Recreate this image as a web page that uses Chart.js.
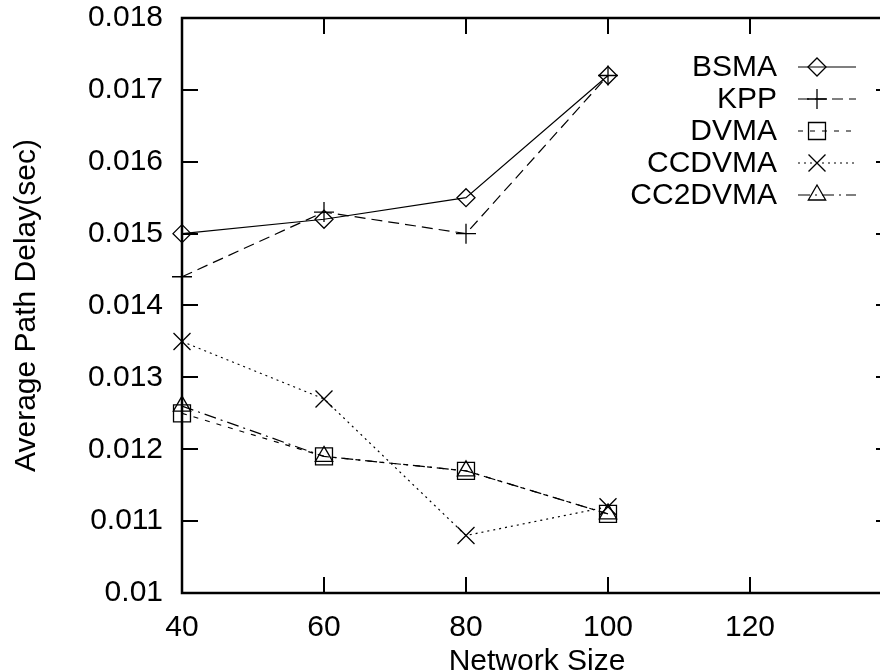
<!DOCTYPE html>
<html>
<head>
<meta charset="utf-8">
<script src="https://cdn.jsdelivr.net/npm/chart.js@4/dist/chart.umd.min.js"></script>
<style>
  html, body { margin: 0; padding: 0; background: #fff; overflow: hidden; }
  canvas { display: block; }
</style>
</head>
<body>
<canvas id="c" width="920" height="671"></canvas>
<script>
// ---- data ----
const networkSizes = [40, 60, 80, 100];
const bsma    = [0.0150, 0.0152, 0.0155, 0.0172];
const kpp     = [0.0144, 0.0153, 0.0150, 0.0172];
const dvma    = [0.0125, 0.0119, 0.0117, 0.0111];
const ccdvma  = [0.0135, 0.0127, 0.0108, 0.0112];
const cc2dvma = [0.0126, 0.0119, 0.0117, 0.0111];
const seriesNames = ['BSMA', 'KPP', 'DVMA', 'CCDVMA', 'CC2DVMA'];
const xTickValues = [40, 60, 80, 100, 120];
const yTickValues = [0.010, 0.011, 0.012, 0.013, 0.014, 0.015, 0.016, 0.017, 0.018];

const FONT = '"Liberation Sans", Arial, Helvetica, sans-serif';

const styles = [
  { pointStyle: 'rectRot',  pointRadius: 9,  borderDash: [] },
  { pointStyle: 'cross',    pointRadius: 10, borderDash: [11, 6] },
  { pointStyle: 'rect',     pointRadius: 12, borderDash: [5, 7] },
  { pointStyle: 'crossRot', pointRadius: 12, borderDash: [2, 4] },
  { pointStyle: 'triangle', pointRadius: 10, borderDash: [12, 5, 2, 5] }
];
const allSeries = [bsma, kpp, dvma, ccdvma, cc2dvma];

const datasets = allSeries.map((vals, i) => ({
  label: seriesNames[i],
  data: networkSizes.map((x, j) => ({ x: x, y: vals[j] })),
  borderColor: '#000',
  backgroundColor: 'rgba(0,0,0,0)',
  borderWidth: 1.2,
  borderDash: styles[i].borderDash,
  pointStyle: styles[i].pointStyle,
  pointRadius: styles[i].pointRadius,
  pointHoverRadius: styles[i].pointRadius,
  pointBorderWidth: 1.3,
  pointBorderColor: '#000',
  pointBackgroundColor: 'rgba(0,0,0,0)',
  tension: 0,
  fill: false,
  clip: false
}));

// frame with inward ticks on all four sides (gnuplot style)
const framePlugin = {
  id: 'frame',
  afterDatasetsDraw(chart) {
    const { ctx, chartArea: a, scales } = chart;
    ctx.save();
    ctx.strokeStyle = '#000';
    ctx.lineWidth = 2;
    ctx.setLineDash([]);
    const T = 16;
    ctx.beginPath();
    yTickValues.forEach(v => {
      const y = Math.round(scales.y.getPixelForValue(v));
      ctx.moveTo(a.left, y); ctx.lineTo(a.left + T, y);
      ctx.moveTo(a.right, y); ctx.lineTo(a.right - T, y);
    });
    xTickValues.forEach(v => {
      const x = Math.round(scales.x.getPixelForValue(v));
      ctx.moveTo(x, a.bottom); ctx.lineTo(x, a.bottom - T);
      ctx.moveTo(x, a.top); ctx.lineTo(x, a.top + T);
    });
    ctx.stroke();
    ctx.lineWidth = 2.5;
    ctx.strokeRect(a.left, a.top, a.right - a.left, a.bottom - a.top);
    ctx.restore();
  }
};

// gnuplot-style key: text on the left, line sample with marker on the right
const keyPlugin = {
  id: 'gnukey',
  afterDraw(chart) {
    const { ctx } = chart;
    ctx.save();
    ctx.font = '30px ' + FONT;
    ctx.textAlign = 'right';
    ctx.textBaseline = 'middle';
    chart.data.datasets.forEach((ds, i) => {
      const y = 67 + i * 32;
      ctx.fillStyle = '#000';
      ctx.fillText(ds.label, 777, y + 1);
      ctx.strokeStyle = '#000';
      ctx.lineWidth = ds.borderWidth;
      ctx.setLineDash(ds.borderDash || []);
      ctx.beginPath();
      ctx.moveTo(798, y); ctx.lineTo(856, y);
      ctx.stroke();
      ctx.setLineDash([]);
      ctx.lineWidth = ds.pointBorderWidth;
      ctx.fillStyle = 'rgba(0,0,0,0)';
      Chart.helpers.drawPoint(ctx, {
        pointStyle: ds.pointStyle,
        radius: ds.pointRadius,
        rotation: 0,
        borderWidth: ds.pointBorderWidth
      }, 817, y);
    });
    ctx.restore();
  }
};

new Chart(document.getElementById('c'), {
  type: 'line',
  data: { datasets: datasets },
  options: {
    responsive: false,
    animation: false,
    events: [],
    layout: { padding: { top: 18, right: 28, left: 0, bottom: 0 } },
    plugins: { legend: { display: false }, tooltip: { enabled: false } },
    scales: {
      x: {
        type: 'linear',
        min: 40, max: 140,
        afterFit: s => { s.height = 78; s.paddingLeft = 0; s.paddingRight = 0; },
        afterBuildTicks: s => { s.ticks = [40, 60, 80, 100, 120, 140].map(v => ({ value: v })); },
        grid: { display: false, drawTicks: false },
        border: { display: false },
        ticks: {
          padding: 17,
          color: '#000',
          font: { family: FONT, size: 30 },
          maxRotation: 0,
          callback: v => (xTickValues.includes(v) ? String(v) : '')
        },
        title: {
          display: true,
          text: 'Network Size',
          color: '#000',
          font: { family: FONT, size: 30, lineHeight: '18px' },
          padding: { top: 0, bottom: 0 }
        }
      },
      y: {
        type: 'linear',
        min: 0.010, max: 0.018,
        afterFit: s => { s.width = 182; s.paddingTop = 0; s.paddingBottom = 0; },
        afterBuildTicks: s => { s.ticks = yTickValues.map(v => ({ value: v })); },
        grid: { display: false, drawTicks: false },
        border: { display: false },
        ticks: {
          padding: 19,
          color: '#000',
          font: { family: FONT, size: 30 },
          callback: v => String(Number(v.toFixed(3)))
        },
        title: {
          display: true,
          text: 'Average Path Delay(sec)',
          color: '#000',
          font: { family: FONT, size: 30, lineHeight: 1.2 },
          padding: { top: 9, bottom: 0 }
        }
      }
    }
  },
  plugins: [framePlugin, keyPlugin]
});
</script>
</body>
</html>
